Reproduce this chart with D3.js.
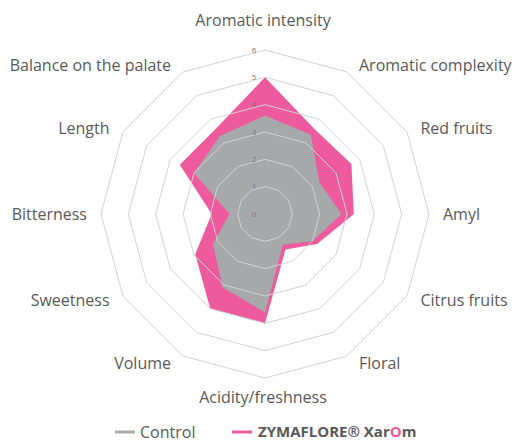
<!DOCTYPE html>
<html>
<head>
<meta charset="utf-8">
<script src="https://cdn.jsdelivr.net/npm/d3@7"></script>
<style>
  body { margin: 0; background: #fff; }
  text { font-family: "Open Sans", sans-serif; }
</style>
</head>
<body>
<div id="radar"></div>
<script>
// Chart data
const axes = ["Aromatic intensity", "Aromatic complexity", "Red fruits", "Amyl",
  "Citrus fruits", "Floral", "Acidity/freshness", "Volume", "Sweetness",
  "Bitterness", "Length", "Balance on the palate"];
const control = [3.6, 3.35, 2.3, 2.8, 2.0, 1.3, 3.6, 3.1, 2.2, 1.3, 3.0, 3.3];
const xarom = [5.0, 3.6, 3.65, 3.25, 2.2, 1.5, 4.0, 4.0, 2.95, 1.95, 3.6, 3.6];
const ticks = [0, 1, 2, 3, 4, 5, 6];

const width = 521, height = 444;
const cx = 265, cy = 214;
const pink = "#ee5a9e", grey = "#a7a8aa";

const svg = d3.select("#radar")
    .append("svg")
    .attr("width", width)
    .attr("height", height);

const r = d3.scaleLinear().domain([0, 6]).range([0, 164]);
const angle = d3.scaleLinear().domain([0, axes.length]).range([0, 2 * Math.PI]);

const g = svg.append("g").attr("transform", `translate(${cx},${cy})`);

// Polygon generator in polar coords
const radial = d3.lineRadial()
    .angle((d, i) => angle(i))
    .radius(d => r(d))
    .curve(d3.curveLinearClosed);

// Filled series (pink below, control on top)
g.append("path").attr("d", radial(xarom)).attr("fill", pink);
g.append("path").attr("d", radial(control)).attr("fill", grey);

// Grid rings drawn over the fills
ticks.slice(1).forEach(t => {
    g.append("path")
        .attr("d", radial(axes.map(() => t)))
        .attr("fill", "none")
        .attr("stroke", "#d3d3d3")
        .attr("stroke-width", 1);
});

// Tick labels
g.selectAll(".tick")
    .data(ticks)
    .join("text")
    .attr("x", -11)
    .attr("y", d => -r(d))
    .attr("dy", "0.35em")
    .attr("text-anchor", "middle")
    .attr("font-size", 8)
    .attr("fill", "#777")
    .text(d => d);

// Axis labels, placed roughly like Excel does
axes.forEach((name, i) => {
    const a = angle(i);
    const s = Math.sin(a), c = Math.cos(a);
    let x, y, anchor;
    if (Math.abs(s) < 0.1) {
        x = -2;
        y = c > 0 ? -194 : 183;
        anchor = "middle";
    } else {
        x = Math.sign(s) * (168 * Math.abs(s) + 10);
        y = -172 * c;
        anchor = s > 0 ? "start" : "end";
    }
    g.append("text")
        .attr("x", x)
        .attr("y", y)
        .attr("dy", "0.35em")
        .attr("text-anchor", anchor)
        .attr("font-size", 16)
        .attr("fill", "#595959")
        .text(name);
});

// Legend
const legend = svg.append("g").attr("transform", "translate(0,432)");
legend.append("line").attr("x1", 115).attr("x2", 135)
    .attr("stroke", grey).attr("stroke-width", 3);
legend.append("text").attr("x", 140).attr("dy", "0.35em")
    .attr("font-size", 16).attr("fill", "#595959").text("Control");
legend.append("line").attr("x1", 232).attr("x2", 252)
    .attr("stroke", pink).attr("stroke-width", 3);
const lt = legend.append("text").attr("x", 258).attr("dy", "0.35em")
    .attr("font-size", 15).attr("font-weight", "bold").attr("fill", "#595959");
lt.append("tspan").text("ZYMAFLORE® Xar");
lt.append("tspan").attr("fill", pink).text("O");
lt.append("tspan").text("m");
</script>
</body>
</html>
